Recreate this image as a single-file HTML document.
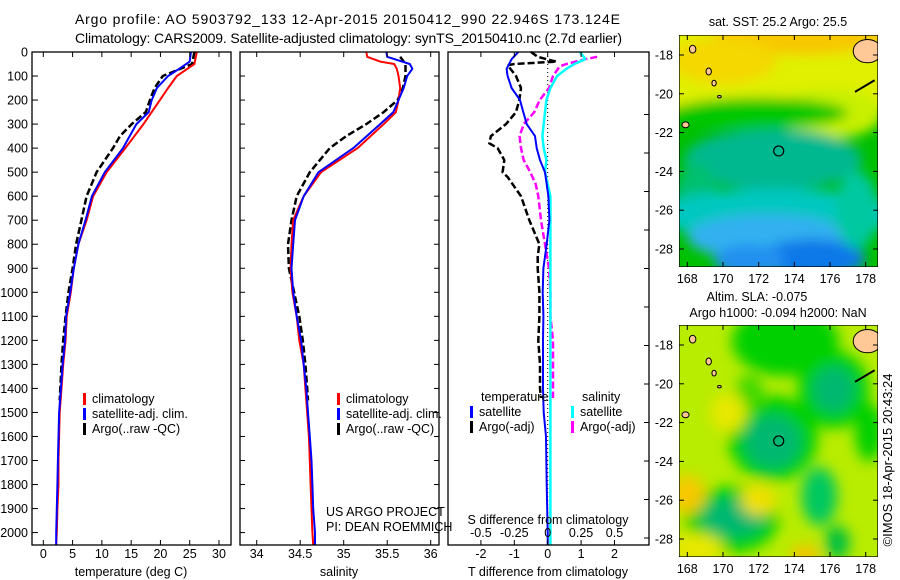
<!DOCTYPE html>
<html><head><meta charset="utf-8"><style>
html,body{margin:0;padding:0;background:#fff;width:900px;height:580px;overflow:hidden;}
svg{display:block;font-family:"Liberation Sans",sans-serif;}
</style></head><body>
<svg id="fig" width="900" height="580" viewBox="0 0 900 580">
<defs>
<filter id="blur1" x="-20%" y="-20%" width="140%" height="140%"><feGaussianBlur stdDeviation="6"/></filter>
<filter id="blur2" x="-20%" y="-20%" width="140%" height="140%"><feGaussianBlur stdDeviation="7"/></filter>
<clipPath id="clipM1"><rect x="679" y="35" width="199" height="232"/></clipPath>
<clipPath id="clipM2"><rect x="679" y="325" width="199" height="232"/></clipPath>
</defs>
<text x="75" y="24" font-size="14" textLength="545">Argo profile: AO 5903792_133 12-Apr-2015 20150412_990 22.946S 173.124E</text>
<text x="75" y="43" font-size="14" textLength="547">Climatology: CARS2009. Satellite-adjusted climatology: synTS_20150410.nc (2.7d earlier)</text>
<g id="p1"></g>
<g id="p2"></g>
<g id="p3"></g>
<g id="m1"></g>
<g id="m2"></g>
<text transform="translate(892,460) rotate(-90)" font-size="13" text-anchor="middle">©IMOS 18-Apr-2015 20:43:24</text>
</svg>
<script>
// ---- data ----
const tClimDepth=[0,50,70,100,150,200,300,400,500,600,700,800,900,1000,1100,1200,1300,1400,1500,1600,1700,1800,1900,2000,2050];
const tClim=[26.2,25.8,24.6,22.8,21.3,19.9,17.1,14.0,10.8,8.5,7.4,6.0,5.2,4.7,4.0,3.8,3.4,3.1,2.8,2.7,2.6,2.6,2.4,2.3,2.2];
const tSatDepth=[0,40,70,100,150,200,250,300,400,500,600,700,800,900,1000,1100,1200,1300,1400,1500,1600,1700,1800,1900,2000,2050];
const tSat=[25.2,25.0,23.2,21.3,19.4,18.5,18.0,15.9,13.6,10.5,8.3,7.2,6.0,5.2,4.6,3.9,3.7,3.3,3.0,2.7,2.6,2.5,2.4,2.3,2.2,2.2];
const tArgoDepth=[0,50,100,150,200,250,300,350,400,500,600,700,800,900,1000,1100,1200,1300,1400,1450];
const tArgo=[25.8,25.4,20.4,19.0,18.2,17.5,15.1,13.1,11.9,9.1,7.4,6.5,5.6,5.0,4.3,3.8,3.4,3.1,2.9,2.8];
const sClimDepth=[0,20,40,50,70,100,150,200,250,300,400,500,600,700,800,900,1000,1100,1200,1300,1400,1500,1600,1700,1800,1900,2000,2050];
const sClim=[35.26,35.27,35.42,35.58,35.61,35.63,35.65,35.63,35.60,35.46,35.16,34.74,34.54,34.42,34.40,34.39,34.41,34.46,34.49,34.54,34.56,34.58,34.60,34.61,34.62,34.63,34.64,34.65];
const sSatDepth=[0,20,50,70,100,150,200,250,300,400,500,600,700,800,900,1000,1100,1200,1300,1400,1500,1600,1700,1800,1900,2000,2050];
const sSat=[35.49,35.50,35.76,35.79,35.73,35.69,35.63,35.57,35.42,35.11,34.71,34.54,34.44,34.42,34.40,34.42,34.46,34.51,34.54,34.57,34.59,34.61,34.63,34.64,34.65,34.67,34.67];
const sArgoDepth=[20,50,100,150,200,250,300,350,400,500,600,700,800,900,1000,1100,1200,1300,1400,1450];
const sArgo=[35.65,35.71,35.71,35.68,35.62,35.46,35.26,35.03,34.84,34.61,34.46,34.40,34.36,34.37,34.43,34.49,34.53,34.56,34.58,34.59];
const dTSatDepth=[0,30,70,100,150,200,250,300,350,400,450,500,600,700,800,900,1000,1100,1200,1400,1500,1600,1800,2000,2050];
const dTSat=[-0.88,-1.08,-1.23,-1.2,-1.08,-0.83,-0.73,-0.63,-0.38,-0.33,-0.23,-0.08,0.02,0.05,-0.03,-0.13,-0.15,-0.13,-0.14,-0.14,-0.12,-0.05,-0.03,0.0,0.0];
const dTArgoDepth=[0,20,35,40,50,55,100,150,200,250,300,350,380,400,450,500,520,600,700,800,850,900,1000,1100,1200,1300,1400,1440];
const dTArgo=[-0.5,-0.3,0.1,0.27,-1.0,-1.2,-0.95,-0.8,-0.85,-0.95,-1.25,-1.7,-1.75,-1.5,-1.3,-1.35,-1.2,-0.8,-0.55,-0.25,-0.3,-0.3,-0.25,-0.25,-0.28,-0.23,-0.23,-0.2];
const dSSatDepth=[0,20,30,50,70,100,150,200,250,300,350,400,450,500,550,600,800,1000,1200,1600,2000,2050];
const dSSat=[0.24,0.27,0.28,0.2,0.14,0.07,0.02,-0.01,-0.02,-0.03,-0.04,-0.03,-0.01,-0.02,0.0,0.02,0.02,0.02,0.02,0.02,0.02,0.02];
const dSArgoDepth=[20,30,50,60,100,150,200,250,300,350,400,450,500,550,600,700,800,900,1000,1100,1200,1400,1440];
const dSArgo=[0.37,0.28,0.14,0.09,0.04,0.01,-0.06,-0.1,-0.18,-0.21,-0.2,-0.18,-0.13,-0.09,-0.07,-0.05,-0.02,0.01,0.02,0.02,0.04,0.04,0.04];
const depthTicks=[0,100,200,300,400,500,600,700,800,900,1000,1100,1200,1300,1400,1500,1600,1700,1800,1900,2000];
const tTicks=[0,5,10,15,20,25,30];
const sTicks=[34,34.5,35,35.5,36];
const dTTicks=[-2,-1,0,1,2];
const dSTicks=[-0.5,-0.25,0,0.25,0.5];
const lonTicks=[168,170,172,174,176,178];
const latTicks=[-18,-20,-22,-24,-26,-28];
const argoLon=173.124, argoLat=-22.946;

// ---- helpers ----
const NS="http://www.w3.org/2000/svg";
function mk(parent,tag,attrs){const e=document.createElementNS(NS,tag);for(const k in attrs)e.setAttribute(k,attrs[k]);parent.appendChild(e);return e;}
const TOP=52, BOT=545;
const yD=d=>TOP+d*0.2403;
const xT=v=>43.3+v*5.857;
const xS=v=>256.7+(v-34)*87;
const xDT=v=>547.7+v*33.4;
const xDS=v=>547.7+v*133.6;

function box(g,x0,x1){mk(g,'rect',{x:x0,y:TOP,width:x1-x0,height:BOT-TOP,fill:'none',stroke:'#000','stroke-width':1.3});}
function line(g,xs,ds,fx,color,w,dash,name){
  const pts=xs.map((v,i)=>fx(v).toFixed(1)+','+yD(ds[i]).toFixed(1)).join(' ');
  const p=mk(g,'polyline',{points:pts,fill:'none',stroke:color,'stroke-width':w,'stroke-linejoin':'round'});
  if(dash)p.setAttribute('stroke-dasharray',dash);
  
  
}
function xticks(g,ticks,fx,labelY){
  ticks.forEach(t=>{const x=fx(t);
    mk(g,'line',{x1:x,y1:TOP,x2:x,y2:TOP+5,stroke:'#000'});
    mk(g,'line',{x1:x,y1:BOT,x2:x,y2:BOT-5,stroke:'#000'});
    if(labelY){const tx=mk(g,'text',{x:x,y:labelY,'font-size':12.5,'text-anchor':'middle'});tx.textContent=t;
      
      }
  });
}
function legend(g,x,y,items){
  items.forEach((it,i)=>{
    mk(g,'rect',{x:x,y:y+i*15-10,width:3,height:12,fill:it[1]});
    const t=mk(g,'text',{x:x+9,y:y+i*15,'font-size':12.5});t.textContent=it[0];
    
    
  });
}
function txt(g,x,y,s,size,anchor,name){const t=mk(g,'text',{x:x,y:y,'font-size':size,'text-anchor':anchor||'start'});t.textContent=s;
  
  
  return t;}

// ---- panel 1 ----
const p1=document.getElementById('p1');
depthTicks.forEach(d=>{mk(p1,'line',{x1:32,y1:yD(d),x2:38,y2:yD(d),stroke:'#000'});
  txt(p1,28,yD(d)+4.5,d,12.5,'end','y-tick-label');});
line(p1,tArgo,tArgoDepth,xT,'#000',2.5,'7,3','argo-temperature-line');
line(p1,tClim,tClimDepth,xT,'#ff0000',2,'','climatology-temperature-line');
line(p1,tSat,tSatDepth,xT,'#0000ff',2,'','satellite-temperature-line');
box(p1,32,231);
xticks(p1,tTicks,xT,558);
txt(p1,131,576,'temperature (deg C)',12.5,'middle','x-axis-title');
legend(p1,83,403,[['climatology','#ff0000'],['satellite-adj. clim.','#0000ff'],['Argo(..raw -QC)','#000']]);

// ---- panel 2 ----
const p2=document.getElementById('p2');
depthTicks.forEach(d=>{mk(p2,'line',{x1:240,y1:yD(d),x2:245,y2:yD(d),stroke:'#000'});mk(p2,'line',{x1:439,y1:yD(d),x2:434,y2:yD(d),stroke:'#000'});});
line(p2,sArgo,sArgoDepth,xS,'#000',2.5,'7,3','argo-salinity-line');
line(p2,sClim,sClimDepth,xS,'#ff0000',2,'','climatology-salinity-line');
line(p2,sSat,sSatDepth,xS,'#0000ff',2,'','satellite-salinity-line');
box(p2,240,439);
xticks(p2,sTicks,xS,558);
txt(p2,339,576,'salinity',12.5,'middle','x-axis-title');
legend(p2,337,403,[['climatology','#ff0000'],['satellite-adj. clim.','#0000ff'],['Argo(..raw -QC)','#000']]);
txt(p2,326,516,'US ARGO PROJECT',12.5,'start','project-label');
txt(p2,326,531,'PI: DEAN ROEMMICH',12.5,'start','pi-label');

// ---- panel 3 ----
const p3=document.getElementById('p3');
mk(p3,'line',{x1:xDT(0),y1:TOP,x2:xDT(0),y2:BOT,stroke:'#000','stroke-dasharray':'1,3'});
for(let k=0;k<14;k++){const y=538-38.5*k;if(y>TOP)mk(p3,'line',{x1:649,y1:y,x2:644,y2:y,stroke:'#000'});}
line(p3,dTArgo,dTArgoDepth,xDT,'#000',2.5,'7,3','argo-temperature-diff-line');
line(p3,dSArgo,dSArgoDepth,xDS,'#ff00ff',2.5,'7,3','argo-salinity-diff-line');
line(p3,dSSat,dSSatDepth,xDS,'#00ffff',2.5,'','satellite-salinity-diff-line');
line(p3,dTSat,dTSatDepth,xDT,'#0000ff',2,'','satellite-temperature-diff-line');
box(p3,448,649);
xticks(p3,dTTicks,xDT,558);
dSTicks.forEach(t=>{txt(p3,xDS(t),537,t,12.5,'middle','s-tick-label');});
txt(p3,548,524,'S difference from climatology',12.5,'middle','s-axis-title');
txt(p3,548,576,'T difference from climatology',12.5,'middle','t-axis-title');
txt(p3,481,401,'temperature',12.5,'start','legend-title-temperature');
txt(p3,582,401,'salinity',12.5,'start','legend-title-salinity');
legend(p3,470,416,[['satellite','#0000ff'],['Argo(-adj)','#000']]);
legend(p3,571,416,[['satellite','#00ffff'],['Argo(-adj)','#ff00ff']]);

// ---- maps ----
const lonX=l=>687.3+(l-168)*17.84;
function drawMap(g,off,base,blobs,clip,filt){
  const latY=la=>55+off+(-18-la)*19.4;
  const inner=mk(g,'g',{'clip-path':'url(#'+clip+')'});
  mk(inner,'rect',{x:679,y:35+off,width:199,height:232,fill:base});
  const bg=mk(inner,'g',{filter:'url(#'+filt+')'});
  blobs.forEach(b=>{mk(bg,'ellipse',{cx:lonX(b[0]),cy:latY(b[1]),rx:b[2]*17.84,ry:b[3]*19.4,fill:b[4]});});
  const isl=[[178.1,-17.8,0.8,0.6],[168.3,-17.7,0.18,0.2],[169.2,-18.85,0.15,0.18],[169.5,-19.45,0.12,0.15],[169.8,-20.15,0.1,0.06],[167.9,-21.6,0.2,0.15]];
  isl.forEach(s=>{mk(inner,'ellipse',{cx:lonX(s[0]),cy:latY(s[1]),rx:s[2]*17.84,ry:s[3]*19.4,fill:'#ffc896',stroke:'#000','stroke-width':1});});
  mk(inner,'line',{x1:lonX(177.4),y1:latY(-19.9),x2:lonX(178.5),y2:latY(-19.3),stroke:'#000','stroke-width':2});
  mk(inner,'rect',{x:679,y:35+off,width:199,height:232,fill:'none',stroke:'#000','stroke-width':1.3});
  const c=mk(g,'circle',{cx:lonX(argoLon),cy:latY(argoLat),r:5,fill:'none',stroke:'#000','stroke-width':1.2});
  
  
  lonTicks.forEach(l=>{const x=lonX(l);mk(g,'line',{x1:x,y1:35+off,x2:x,y2:40+off,stroke:'#000'});mk(g,'line',{x1:x,y1:267+off,x2:x,y2:262+off,stroke:'#000'});
    txt(g,x,283+off,l,12.5,'middle','lon-tick-label');});
  latTicks.forEach(la=>{const y=latY(la);mk(g,'line',{x1:679,y1:y,x2:684,y2:y,stroke:'#000'});mk(g,'line',{x1:878,y1:y,x2:873,y2:y,stroke:'#000'});
    txt(g,673,y+4.5,la,12.5,'end','lat-tick-label');});
}
const sstBlobs=[
 [173,-18.2,12,3.0,'#e0f000'],
 [174.5,-16.8,5,1.2,'#f8c800'],
 [170,-18.3,3,1.2,'#f4d800'],
 [176,-21,3,1.3,'#c8f000'],
 [172,-21,5,0.8,'#00c800'],
 [172.8,-23.4,5,1.6,'#00b890'],
 [168.5,-25.5,1.2,2,'#00c070'],
 [173,-26.2,7,1.3,'#00c8c0'],
 [172.5,-27.4,4.5,1.2,'#30b0f0'],
 [175,-28.5,3,1,'#1078e8'],
 [171.5,-28.6,2,0.8,'#2090f0'],
 [177.5,-26,1.2,2,'#00c8a0']
];
const slaBlobs=[
 [173.5,-17.8,3,1.8,'#00d000'],
 [176.2,-20.3,2,2,'#00d000'],
 [176.2,-20.3,1.2,1.2,'#00b870'],
 [172.8,-22.8,2.5,2.2,'#00d000'],
 [172.8,-23,1.6,1.4,'#00b870'],
 [170.5,-27,2.6,1.7,'#00d000'],
 [170.6,-26.9,1.8,1,'#00b870'],
 [175.4,-25.8,1,1.5,'#00c860'],
 [176.4,-28.2,0.7,0.9,'#00c040'],
 [178.2,-22.5,0.8,1.5,'#00d000'],
 [171.5,-20.5,0.8,1,'#40d800'],
 [168,-25.7,1,1,'#f8c800'],
 [174.6,-28.8,0.8,0.5,'#f8c000'],
 [170.3,-21.5,1,1,'#e8e800'],
 [172,-26,1,0.8,'#f0e000'],
 [168.5,-28.5,1.5,0.8,'#e8e800']
];
drawMap(document.getElementById('m1'),0,'#00c000',sstBlobs,'clipM1','blur1');
drawMap(document.getElementById('m2'),290,'#b8ec00',slaBlobs,'clipM2','blur2');
const m1=document.getElementById('m1'), m2=document.getElementById('m2');
txt(m1,778,26,'sat. SST: 25.2 Argo: 25.5',12.5,'middle','sst-map-title');
txt(m2,757,301,'Altim. SLA: -0.075',12.5,'middle','sla-map-title');
txt(m2,778,317,'Argo h1000: -0.094 h2000: NaN',12.5,'middle','sla-map-subtitle');
</script>
</body></html>
